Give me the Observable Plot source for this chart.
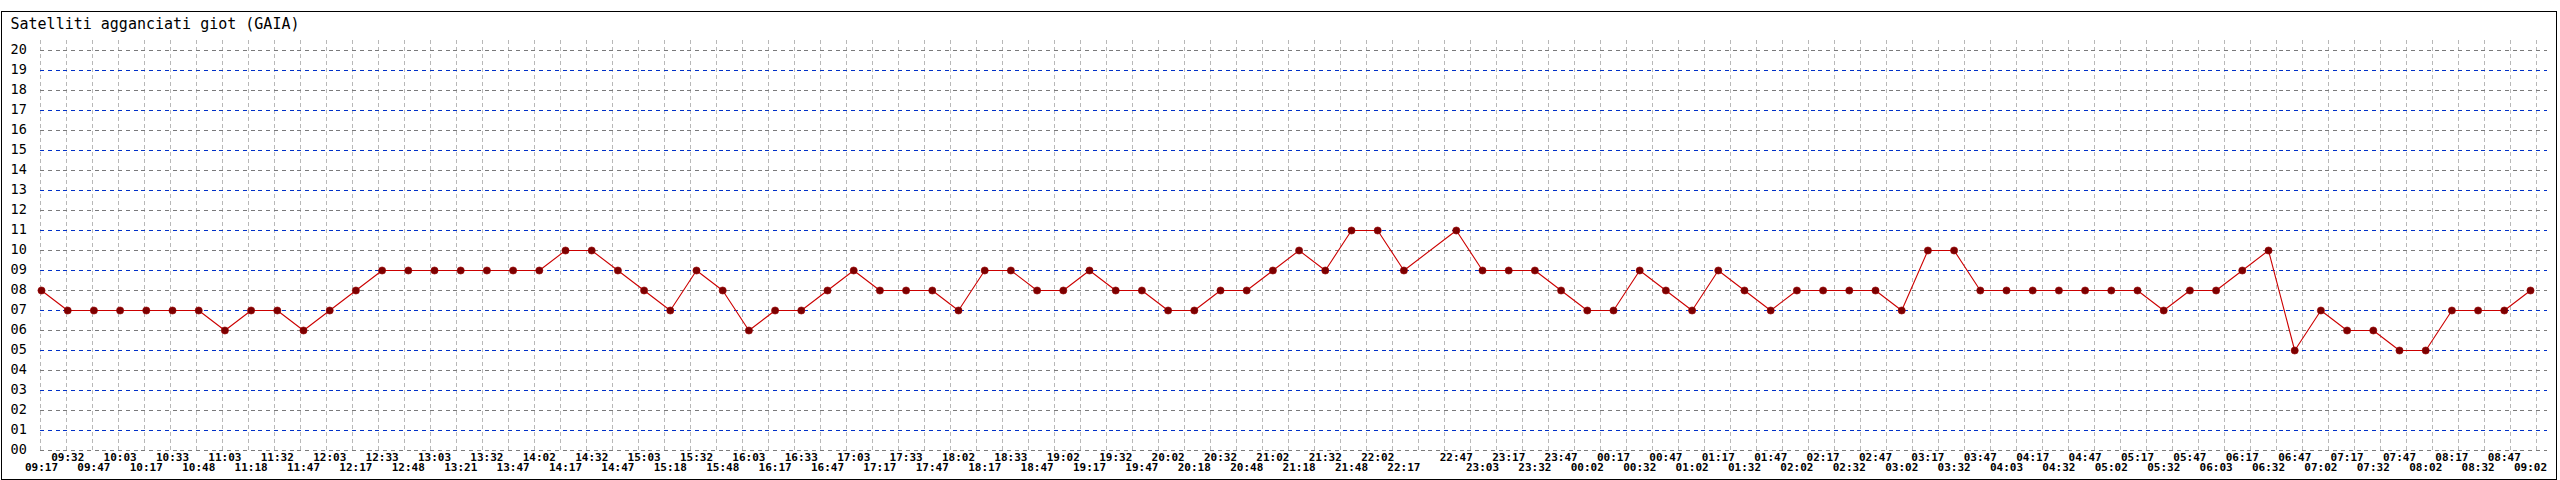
<!DOCTYPE html>
<html>
<head>
<meta charset="utf-8">
<script src="https://cdn.jsdelivr.net/npm/d3@7"></script>
<script src="https://cdn.jsdelivr.net/npm/@observablehq/plot@0.6"></script>
<style>
  html, body { margin: 0; padding: 0; background: white; }
</style>
</head>
<body>
<div id="chart"></div>
<script>
const title = "Satelliti agganciati giot (GAIA)";

// one entry per time slot; slot 53 (22:32) has no reading
const slots = [
  "09:17","09:32","09:47","10:03","10:17","10:33","10:48","11:03","11:18","11:32",
  "11:47","12:03","12:17","12:33","12:48","13:03","13:21","13:32","13:47","14:02",
  "14:17","14:32","14:47","15:03","15:18","15:32","15:48","16:03","16:17","16:33",
  "16:47","17:03","17:17","17:33","17:47","18:02","18:17","18:33","18:47","19:02",
  "19:17","19:32","19:47","20:02","20:18","20:32","20:48","21:02","21:18","21:32",
  "21:48","22:02","22:17",null,"22:47","23:03","23:17","23:32","23:47","00:02",
  "00:17","00:32","00:47","01:02","01:17","01:32","01:47","02:02","02:17","02:32",
  "02:47","03:02","03:17","03:32","03:47","04:03","04:17","04:32","04:47","05:02",
  "05:17","05:32","05:47","06:03","06:17","06:32","06:47","07:02","07:17","07:32",
  "07:47","08:02","08:17","08:32","08:47","09:02"
];

const values = [
  8,7,7,7,7,7,7,6,7,7,
  6,7,8,9,9,9,9,9,9,9,
  10,10,9,8,7,9,8,6,7,7,
  8,9,8,8,8,7,9,9,8,8,
  9,8,8,7,7,8,8,9,10,9,
  11,11,9,null,11,9,9,9,8,7,
  7,9,8,7,9,8,7,8,8,8,
  8,7,10,10,8,8,8,8,8,8,
  8,7,8,8,9,10,5,7,6,6,
  5,5,7,7,7,8
];

const yTicks = d3.range(0, 21);

const data = slots
  .map((t, i) => ({slot: i, time: t, value: values[i]}))
  .filter(d => d.value != null)
  .map((d, k) => ({...d, k}));

const xRange = [41, 2530];
const slotPx = (xRange[1] - xRange[0]) / (slots.length - 1);
// background grid columns are spaced 26px, slightly tighter than the data slots
const gridX = d3.range(97).map(k => (k * 26 - 1) / slotPx);
const gridEnd = (2547 - xRange[0]) / slotPx;

const font = "'DejaVu Sans Mono', 'Liberation Mono', monospace";

const chart = Plot.plot({
  width: 2560,
  height: 480,
  marginLeft: 1,
  marginRight: 4,
  marginTop: 11,
  marginBottom: 1,
  style: {fontFamily: font, background: "white", color: "black"},
  x: {type: "linear", domain: [0, slots.length - 1], range: xRange, axis: null},
  y: {type: "linear", domain: [0, 20], range: [450, 50], axis: null},
  marks: [
    Plot.ruleX(gridX, {x: d => d, y1: 20.5, y2: -0.1, stroke: "#b8b8b8", strokeWidth: 1,
      strokeDasharray: "4,3", shapeRendering: "crispEdges"}),
    Plot.ruleY(yTicks.filter(v => v % 2 === 0), {y: d => d, x1: gridX[0], x2: gridEnd, stroke: "#7a7a7a",
      strokeWidth: 1, strokeDasharray: "4,3.8", shapeRendering: "crispEdges"}),
    Plot.ruleY(yTicks.filter(v => v % 2 === 1), {y: d => d, x1: gridX[0], x2: gridEnd, stroke: "#0030c8",
      strokeWidth: 1, strokeDasharray: "4,3.8", shapeRendering: "crispEdges"}),
    Plot.line(data, {x: "slot", y: "value", stroke: "#cc0000", strokeWidth: 1.1}),
    Plot.dot(data, {x: "slot", y: "value", r: 3.6, fill: "#7d0000", stroke: "#990000", strokeWidth: 0.6}),
    Plot.text(yTicks, {y: d => d, text: d => String(d).padStart(2, "0"), frameAnchor: "left", dx: 9, dy: -1,
      textAnchor: "start", lineAnchor: "middle", fontSize: 13.5, fill: "black"}),
    Plot.text(data.filter(d => d.k % 2 === 1), {x: "slot", text: "time", frameAnchor: "bottom", dy: -22,
      lineAnchor: "middle", textAnchor: "middle", fontSize: 11, fontWeight: "bold", fill: "black"}),
    Plot.text(data.filter(d => d.k % 2 === 0), {x: "slot", text: "time", frameAnchor: "bottom", dy: -12,
      lineAnchor: "middle", textAnchor: "middle", fontSize: 11, fontWeight: "bold", fill: "black"}),
    Plot.text([title], {frameAnchor: "top-left", dx: 9, dy: 13, textAnchor: "start", lineAnchor: "middle",
      fontSize: 15, fill: "black"}),
    Plot.frame({stroke: "black", strokeWidth: 1.5, shapeRendering: "crispEdges"})
  ]
});

document.getElementById("chart").appendChild(chart);
</script>
</body>
</html>
